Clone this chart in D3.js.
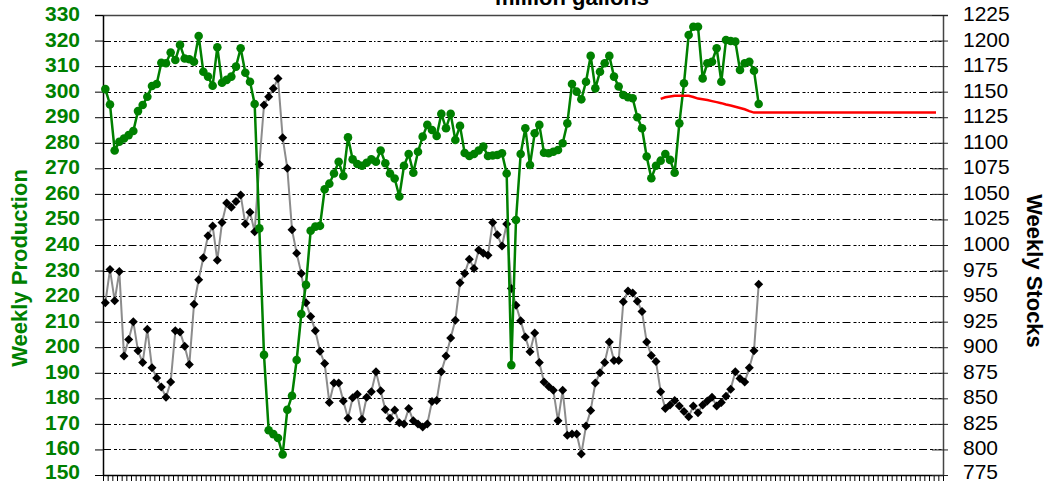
<!DOCTYPE html>
<html><head><meta charset="utf-8">
<script src="https://cdn.jsdelivr.net/npm/d3@7"></script>
<style>
html,body{margin:0;padding:0;background:#fff;}
svg{display:block;background:#fff;}
text{font-family:Arial,"Liberation Sans",sans-serif;}
</style></head><body>
<svg id="chart" width="1046" height="483"></svg>
<script>
// ---- data ----
const categoryCount = 180;               // weekly categories on the x axis (no labels)
const chartTitle = "million gallons";
const leftTitle = "Weekly Production";
const rightTitle = "Weekly Stocks";
const leftTicks = [150,160,170,180,190,200,210,220,230,240,250,260,270,280,290,300,310,320,330];
const rightTicks = [775,800,825,850,875,900,925,950,975,1000,1025,1050,1075,1100,1125,1150,1175,1200,1225];

const production = [
301,295,277,280.4,281.7,283,284.6,292.4,294.8,298,
302.2,303,311.3,311.1,315.3,312.4,318.3,313,312.7,311.7,
321.8,307.8,305.9,302.3,317.4,303.5,304.6,305.9,309.8,317,
307.4,303.9,295.2,246.5,197,167.5,166,164.5,158,175.5,
181,195,213,224.4,245.6,247.2,247.5,261.8,264,268,
272.6,267,282.1,273.5,271.7,271,272.2,273.5,272.6,277,
272,268,266,259,271,275.6,268.3,276.5,282.4,287,
285,282.7,291.3,285.7,291.3,281.1,286.6,276,274.8,275.6,
277,278.5,274.8,275,275.2,275.9,268,193,249.8,275.6,
285.7,271.3,283.7,287,276.1,275.9,276.5,277.2,279.8,287.6,
303,300,297,303.9,314,301.3,307.8,311.1,314,305.9,
302,298.7,297.8,297.4,290,285.7,274.6,266.1,271,273,
275.6,273.3,268.3,287.6,303.3,322.2,325.4,325.4,305.2,311.1,
311.7,317,303.9,320.2,319.8,319.6,308.5,311.1,311.7,308.2,
295.2];

const stocks = [
943.5,976,945.5,974,891.5,907.5,925,896.5,885,917.5,
880,870,861,851,866,916,915,901,883,942,
966,987.5,1009,1018.5,985,1022,1041,1037,1042.5,1049,
1020.5,1032,1013,1079,1137,1145,1153,1163,1105,1075,
1015,992,972,943.5,930,916,896,884,846,865,
865,847.5,830.5,850.5,854,829.5,851,856.5,876,857.5,
839,830.5,838.5,826,825,840,828,825,822,825,
847,848,876,891.5,909,926.5,963,972,986,977,
995,992,990,1022,1010,999,1020.5,957.5,941,926,
910,895.5,914,885,866,861.5,858,828,858,814,
815,815,795.5,823,838,865,875,885,905,887,
887,944.5,955,953,945,935,905,892,886,856.5,
840,843.5,848,842.5,837,832,842.5,836,843.5,847.5,
851,842.5,846,852,859,876,869.5,866,880,896.5,
961.5];

const guideStart = 119;   // first week index of the red guide line
const guide = [
297.2,297.8,298.1,298.4,298.4,298.4,298.4,297.9,297.3,297.0,
296.7,296.3,295.9,295.5,295.0,294.6,294.1,293.6,293.1,292.4,
291.8,291.8,291.8,291.8,291.8,291.8,291.8,291.8,291.8,291.8,
291.8,291.8,291.8,291.8,291.8,291.8,291.8,291.8,291.8,291.8,
291.8,291.8,291.8,291.8,291.8,291.8,291.8,291.8,291.8,291.8,
291.8,291.8,291.8,291.8,291.8,291.8,291.8,291.8,291.8,291.8];

// ---- layout ----
const L = 103, R = 943, T = 15, B = 475;
const GREEN = "#008000";
const svg = d3.select("#chart");

const x = d3.scaleLinear().domain([0, categoryCount]).range([L, R]);
const yL = d3.scaleLinear().domain([150, 330]).range([B, T]);
const yR = d3.scaleLinear().domain([775, 1225]).range([B, T]);
const cx = i => x(i + 0.5);

// gridlines
svg.append("g").selectAll("line")
  .data(leftTicks.filter(v => v > 150 && v < 330))
  .join("line")
  .attr("x1", L).attr("x2", R)
  .attr("y1", d => Math.round(yL(d)) + 0.5).attr("y2", d => Math.round(yL(d)) + 0.5)
  .attr("stroke", "#000").attr("stroke-width", 1)
  .attr("stroke-dasharray", "8,3,3,2,1.5,2,3,3");

// top border
svg.append("line").attr("x1", 95).attr("x2", 948).attr("y1", T + 0.5).attr("y2", T + 0.5)
  .attr("stroke", "#444").attr("stroke-width", 1.5);

// bottom axis
const gx = svg.append("g").attr("transform", `translate(0,${B})`)
  .call(d3.axisBottom(x).tickValues(d3.range(0, categoryCount + 1)).tickFormat("").tickSize(6).tickSizeOuter(0));
gx.select(".domain").attr("stroke", "#000").attr("stroke-width", 1.5);
gx.selectAll(".tick line").attr("stroke", "#000");

// label vertical offset: lowest labels lifted slightly so they stay inside the frame
const labelDy = (d, lowest) => d === lowest ? "3.5" : "0.26em";
const LABEL_SIZE = 21;

// left axis
const gl = svg.append("g").attr("transform", `translate(${L},0)`)
  .call(d3.axisLeft(yL).tickValues(leftTicks).tickFormat(d3.format("d")).tickSize(8).tickSizeOuter(0).tickPadding(15));
gl.select(".domain").attr("stroke", "#000").attr("stroke-width", 1.5);
gl.selectAll(".tick line").attr("stroke", "#000");
gl.selectAll(".tick text").attr("fill", GREEN).attr("font-size", LABEL_SIZE).attr("font-weight", "bold")
  .attr("dy", d => labelDy(d, leftTicks[0])).attr("font-family", "Arial, 'Liberation Sans', sans-serif");

// right axis
const gr = svg.append("g").attr("transform", `translate(${R},0)`)
  .call(d3.axisRight(yR).tickValues(rightTicks).tickFormat(d3.format("d")).tickSize(5).tickSizeOuter(0).tickPadding(15));
gr.select(".domain").attr("stroke", "#444").attr("stroke-width", 1.5);
gr.selectAll(".tick line").attr("x1", -11).attr("stroke", "#222");
gr.selectAll(".tick text").attr("fill", "#000").attr("font-size", LABEL_SIZE)
  .attr("dy", d => labelDy(d, rightTicks[0])).attr("font-family", "Arial, 'Liberation Sans', sans-serif");

// stocks series (grey line, black diamonds)
svg.append("path").datum(stocks)
  .attr("d", d3.line().x((d, i) => cx(i)).y(d => yR(d)))
  .attr("fill", "none").attr("stroke", "#8c8c8c").attr("stroke-width", 2);
svg.append("g").selectAll("path").data(stocks).join("path")
  .attr("transform", (d, i) => `translate(${cx(i)},${yR(d)})`)
  .attr("d", "M0,-4.5L4.5,0L0,4.5L-4.5,0Z").attr("fill", "#000");

// production series (green line with circles)
svg.append("path").datum(production)
  .attr("d", d3.line().x((d, i) => cx(i)).y(d => yL(d)))
  .attr("fill", "none").attr("stroke", GREEN).attr("stroke-width", 2.5);
svg.append("g").selectAll("circle").data(production).join("circle")
  .attr("cx", (d, i) => cx(i)).attr("cy", d => yL(d)).attr("r", 4.3).attr("fill", GREEN);

// red guide line
svg.append("path").datum(guide)
  .attr("d", d3.line().x((d, i) => cx(i + guideStart)).y(d => yL(d)))
  .attr("fill", "none").attr("stroke", "#ff0000").attr("stroke-width", 2.5);

// titles
svg.append("text").attr("x", 572).attr("y", 5).attr("text-anchor", "middle")
  .attr("font-size", 22).attr("font-weight", "bold").attr("fill", "#000").text(chartTitle);
svg.append("text").attr("transform", "translate(27,268) rotate(-90)").attr("text-anchor", "middle")
  .attr("font-size", 22).attr("font-weight", "bold").attr("fill", GREEN).text(leftTitle);
svg.append("text").attr("transform", "translate(1027,271) rotate(90)").attr("text-anchor", "middle")
  .attr("font-size", 22).attr("font-weight", "bold").attr("fill", "#000").text(rightTitle);
</script>
</body></html>
